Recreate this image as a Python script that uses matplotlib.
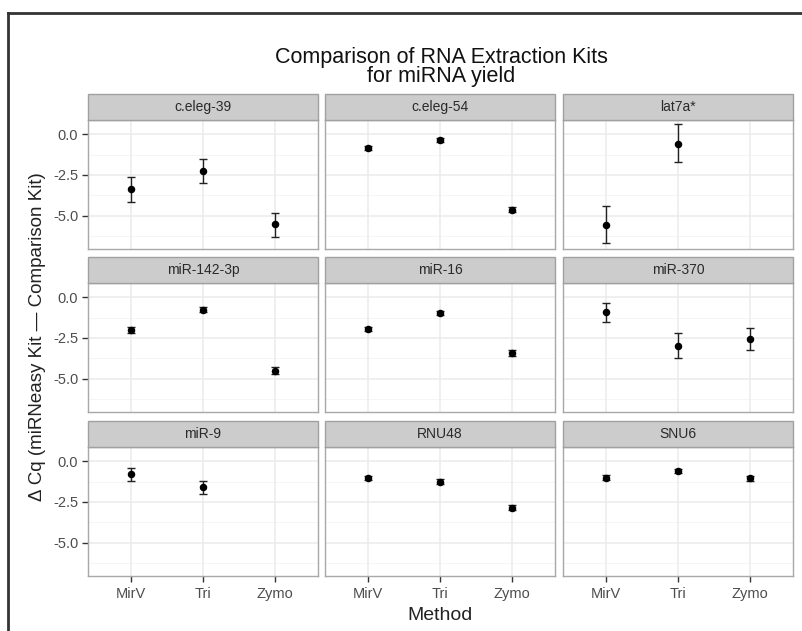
import matplotlib
matplotlib.use("Agg")
import matplotlib.pyplot as plt
from matplotlib.patches import Rectangle
from matplotlib.lines import Line2D
import numpy as np

plt.rcParams['font.family'] = ['Liberation Sans', 'DejaVu Sans']

methods = ["MirV", "Tri", "Zymo"]
genes = ["c.eleg-39", "c.eleg-54", "lat7a*",
         "miR-142-3p", "miR-16", "miR-370",
         "miR-9", "RNU48", "SNU6"]

# mean delta Cq per gene (MirV, Tri, Zymo); None = missing
means = {
    "c.eleg-39":  [-3.38, -2.23, -5.53],
    "c.eleg-54":  [-0.84, -0.33, -4.63],
    "lat7a*":     [-5.59, -0.57, None],
    "miR-142-3p": [-2.00, -0.76, -4.50],
    "miR-16":     [-1.93, -0.97, -3.44],
    "miR-370":    [-0.90, -2.98, -2.57],
    "miR-9":      [-0.81, -1.58, None],
    "RNU48":      [-1.01, -1.26, -2.84],
    "SNU6":       [-1.00, -0.61, -1.05],
}
lower = {
    "c.eleg-39":  [-4.16, -2.97, -6.31],
    "c.eleg-54":  [-0.96, -0.45, -4.80],
    "lat7a*":     [-6.68, -1.72, None],
    "miR-142-3p": [-2.17, -0.90, -4.72],
    "miR-16":     [-2.05, -1.07, -3.62],
    "miR-370":    [-1.52, -3.74, -3.23],
    "miR-9":      [-1.23, -1.99, None],
    "RNU48":      [-1.14, -1.42, -3.02],
    "SNU6":       [-1.13, -0.74, -1.20],
}
upper = {
    "c.eleg-39":  [-2.62, -1.54, -4.81],
    "c.eleg-54":  [-0.72, -0.21, -4.46],
    "lat7a*":     [-4.40, 0.66, None],
    "miR-142-3p": [-1.83, -0.62, -4.28],
    "miR-16":     [-1.81, -0.87, -3.26],
    "miR-370":    [-0.35, -2.18, -1.89],
    "miR-9":      [-0.44, -1.22, None],
    "RNU48":      [-0.88, -1.10, -2.66],
    "SNU6":       [-0.87, -0.48, -0.90],
}
yticks = [0.0, -2.5, -5.0]
ytick_labels = ["0.0", "-2.5", "-5.0"]

W, H = 803, 631
fig = plt.figure(figsize=(W / 100, H / 100), dpi=100)

def fx(px):
    return px / W

def fy(py):
    return 1 - py / H

col_x = [(88, 318), (325, 555), (563, 793)]
row_top = [120, 283, 447]
panel_h = 129
strip_h = 26

for i, g in enumerate(genes):
    r, c = divmod(i, 3)
    x0, x1 = col_x[c]
    top = row_top[r]
    ax = fig.add_axes([fx(x0), fy(top + panel_h), fx(x1 - x0), panel_h / H])
    ax.set_xlim(0.4, 3.6)
    ax.set_ylim(-7.05, 0.88)
    ax.set_facecolor("white")
    for yv in [0.0, -2.5, -5.0]:
        ax.axhline(yv, color="#ebebeb", lw=1.1, zorder=0)
    for yv in [-1.25, -3.75, -6.25]:
        ax.axhline(yv, color="#f4f4f4", lw=0.6, zorder=0)
    for xv in [1, 2, 3]:
        ax.axvline(xv, color="#ebebeb", lw=1.1, zorder=0)
    xs, ys, lo, hi = [], [], [], []
    for k in range(3):
        if means[g][k] is None:
            continue
        xs.append(k + 1)
        ys.append(means[g][k])
        lo.append(means[g][k] - lower[g][k])
        hi.append(upper[g][k] - means[g][k])
    ax.errorbar(xs, ys, yerr=[lo, hi], fmt="o", color="black", ms=4.4,
                ecolor="#222222", elinewidth=1.0, capsize=2.6, capthick=1.0,
                zorder=3)
    for s in ax.spines.values():
        s.set_color("#a8a8a8")
        s.set_linewidth(1.0)
    ax.set_xticks([1, 2, 3])
    ax.set_yticks(yticks)
    ax.tick_params(length=4, width=1.0, color="#333333", labelcolor="#4d4d4d",
                   labelsize=10.5, pad=3)
    ax.tick_params(axis="x", pad=4)
    if c == 0:
        ax.set_yticklabels(ytick_labels)
    else:
        ax.tick_params(axis="y", length=0, labelleft=False)
    if r == 2:
        ax.set_xticklabels(methods)
    else:
        ax.tick_params(axis="x", length=0, labelbottom=False)
    fig.patches.append(Rectangle((fx(x0), fy(top)), fx(x1 - x0), strip_h / H,
                                 transform=fig.transFigure, facecolor="#cccccc",
                                 edgecolor="#a0a0a0", lw=1.0))
    fig.text(fx((x0 + x1) / 2), fy(top - strip_h / 2), g, ha="center",
             va="center", fontsize=10, color="#2a2a2a")

# outer frame (top and left visible)
fig.add_artist(Line2D([fx(8), fx(803)], [fy(12.5), fy(12.5)],
                      transform=fig.transFigure, color="#333333", lw=2))
fig.add_artist(Line2D([fx(8), fx(8)], [fy(12.5), fy(631)],
                      transform=fig.transFigure, color="#333333", lw=2))

fig.text(fx(441), fy(67), "Comparison of RNA Extraction Kits\nfor miRNA yield",
         ha="center", va="center", fontsize=15.5, linespacing=0.92, color="#111111")
fig.text(fx(440), fy(616), "Method", ha="center", va="center", fontsize=14,
         color="#222222")
fig.text(fx(38), fy(337), "Δ Cq (miRNeasy Kit — Comparison Kit)", ha="center",
         va="center", rotation=90, fontsize=13.5, color="#222222")

fig.savefig("out.png", dpi=100)
